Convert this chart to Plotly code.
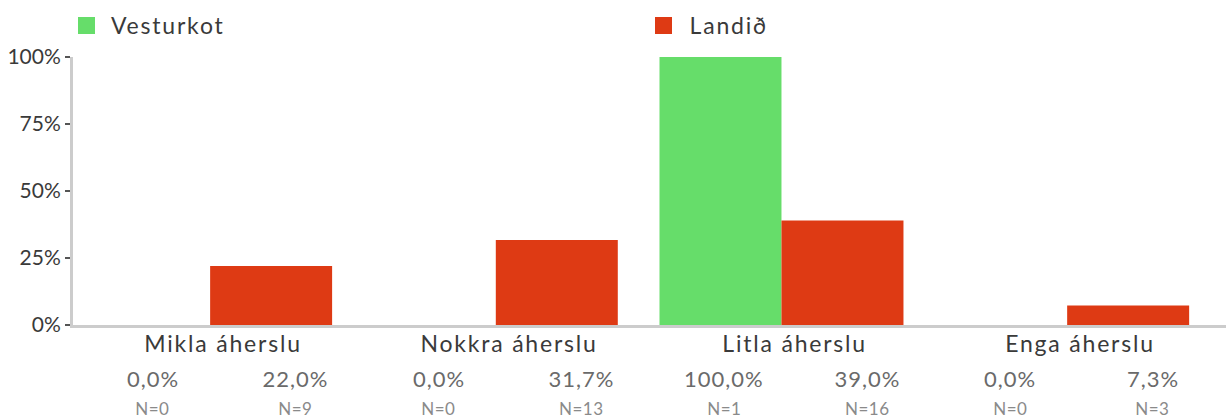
import plotly.graph_objects as go

categories = ["Mikla áherslu", "Nokkra áherslu", "Litla áherslu", "Enga áherslu"]
series_names = ["Vesturkot", "Landið"]
vesturkot_pct = [0.0, 0.0, 100.0, 0.0]
landid_pct = [22.0, 31.7, 39.0, 7.3]
vesturkot_n = [0, 0, 1, 0]
landid_n = [9, 13, 16, 3]
y_tick_vals = [0, 25, 50, 75, 100]
y_tick_text = ["0%", "25%", "50%", "75%", "100%"]

GREEN = "#66DD6A"
RED = "#DE3A14"
FONT = "Lato"

W, H = 1226, 418
L, R, T, B = 73, 0, 57, 93
PW = W - L - R
PH = H - T - B

def px_to_paper_x(p):
    return (p - L) / PW

def px_to_paper_y(p):
    return (H - B - p) / PH

idx = list(range(len(categories)))

fig = go.Figure()
fig.add_trace(go.Bar(x=idx, y=vesturkot_pct, name=series_names[0],
                     marker=dict(color=GREEN, line=dict(width=0)), showlegend=False))
fig.add_trace(go.Bar(x=idx, y=landid_pct, name=series_names[1],
                     marker=dict(color=RED, line=dict(width=0)), showlegend=False))

def fmt(v):
    return f"{v:.1f}".replace(".", ",") + "%"

ann = []
for i, cat in enumerate(categories):
    ann.append(dict(x=i, y=0, xref="x", yref="paper", text=cat, showarrow=False,
                    xanchor="center", yanchor="middle", xshift=13, yshift=-18,
                    font=dict(family=FONT, size=23, color="#3a3a3a")))
    for off, vals, ns in ((-0.20, vesturkot_pct, vesturkot_n), (0.30, landid_pct, landid_n)):
        ann.append(dict(x=i + off, y=0, xref="x", yref="paper", text=fmt(vals[i]),
                        showarrow=False, xanchor="center", yanchor="middle", yshift=-53,
                        font=dict(family=FONT, size=22, color="#6a6a6a")))
        ann.append(dict(x=i + off, y=0, xref="x", yref="paper", text=f"N={ns[i]}",
                        showarrow=False, xanchor="center", yanchor="middle", yshift=-83,
                        font=dict(family=FONT, size=17, color="#8a8a8a")))

# custom legend
shapes = []
leg = [(series_names[0], GREEN, 78, 110), (series_names[1], RED, 655, 686)]
for name, col, sx, tx in leg:
    shapes.append(dict(type="rect", xref="paper", yref="paper",
                       x0=px_to_paper_x(sx), x1=px_to_paper_x(sx + 17),
                       y0=px_to_paper_y(34), y1=px_to_paper_y(17),
                       fillcolor=col, line=dict(width=0)))
    ann.append(dict(x=px_to_paper_x(tx), y=px_to_paper_y(25), xref="paper", yref="paper",
                    text=name, showarrow=False, xanchor="left", yanchor="middle",
                    xshift=7,
                    font=dict(family=FONT, size=23, color="#3a3a3a")))

fig.update_layout(
    width=W, height=H,
    margin=dict(l=L, r=R, t=T, b=B),
    paper_bgcolor="white", plot_bgcolor="white",
    barmode="group", bargap=0.146, bargroupgap=0,
    annotations=ann, shapes=shapes,
    font=dict(family=FONT),
)
fig.update_xaxes(range=[-0.48, 3.556], showticklabels=False, ticks="",
                 showgrid=False, zeroline=False, showline=True,
                 linecolor="#cccccc", linewidth=3, fixedrange=True)
fig.update_yaxes(range=[0, 100], tickvals=y_tick_vals, ticktext=y_tick_text,
                 ticks="outside", ticklen=5, tickwidth=2, tickcolor="#555555",
                 showgrid=False, zeroline=False, showline=True,
                 linecolor="#cccccc", linewidth=3,
                 tickfont=dict(family=FONT, size=21, color="#3a3a3a"))

post = """
document.body.style.margin = '0';
document.body.style.padding = '0';
document.querySelectorAll('text.annotation-text').forEach(function(el){
  var s = parseFloat(el.style.fontSize);
  var ls = s >= 23 ? '1.8px' : (s >= 21 ? '1px' : '0.5px');
  el.style.letterSpacing = ls;
});
"""
fig.write_html("out.html", post_script=post, config={"displayModeBar": False})
